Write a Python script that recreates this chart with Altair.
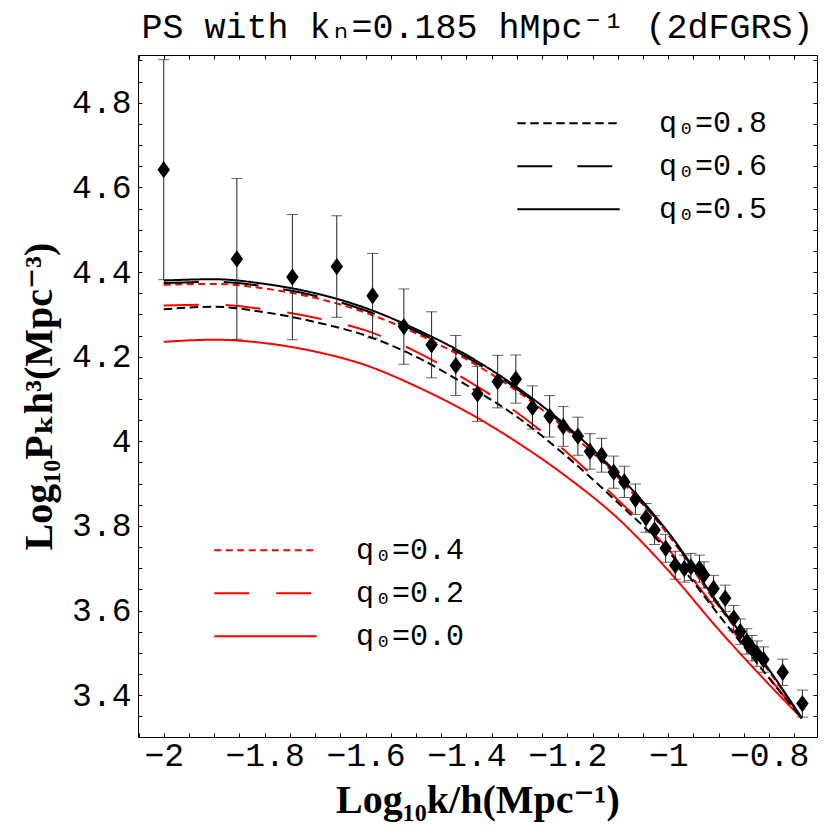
import altair as alt
import pandas as pd

# ---------------- data ----------------
curve_x = [-2.0, -1.9, -1.8, -1.7, -1.6, -1.5, -1.4, -1.3, -1.2, -1.1, -1.0, -0.9, -0.8, -0.735]
q08 = [4.312, 4.318, 4.305, 4.282, 4.250, 4.200, 4.133, 4.058, 3.963, 3.855, 3.740, 3.590, 3.440, 3.345]
q06 = [4.374, 4.377, 4.366, 4.344, 4.309, 4.260, 4.199, 4.124, 4.031, 3.919, 3.782, 3.613, 3.458, 3.345]
q05 = [4.380, 4.383, 4.372, 4.350, 4.315, 4.265, 4.204, 4.128, 4.035, 3.922, 3.785, 3.615, 3.460, 3.345]
q04 = [4.370, 4.372, 4.361, 4.339, 4.304, 4.255, 4.194, 4.119, 4.026, 3.915, 3.779, 3.610, 3.456, 3.345]
q02 = [4.321, 4.323, 4.312, 4.292, 4.262, 4.212, 4.145, 4.068, 3.973, 3.862, 3.745, 3.595, 3.442, 3.345]
q00 = [4.235, 4.240, 4.232, 4.212, 4.180, 4.130, 4.070, 3.998, 3.915, 3.818, 3.695, 3.555, 3.425, 3.345]

black_labels = ["q₀=0.8", "q₀=0.6", "q₀=0.5"]
red_labels = ["q₀=0.4", "q₀=0.2", "q₀=0.0"]

data_x = [-2.000, -1.855, -1.745, -1.657, -1.586, -1.524, -1.469, -1.421, -1.378, -1.338,
          -1.302, -1.269, -1.235, -1.208, -1.179, -1.155, -1.132, -1.108, -1.087, -1.065,
          -1.044, -1.027, -1.005, -0.986, -0.968, -0.955, -0.938, -0.929, -0.910, -0.887,
          -0.870, -0.857, -0.844, -0.834, -0.824, -0.811, -0.773, -0.734]
data_y = [4.642, 4.431, 4.388, 4.413, 4.344, 4.271, 4.228, 4.179, 4.112, 4.141,
          4.147, 4.080, 4.059, 4.035, 4.012, 3.976, 3.967, 3.927, 3.904, 3.863,
          3.819, 3.790, 3.747, 3.707, 3.699, 3.703, 3.699, 3.684, 3.652, 3.629,
          3.582, 3.550, 3.527, 3.511, 3.498, 3.484, 3.454, 3.380]
data_err = [0.260, 0.190, 0.148, 0.120, 0.100, 0.089, 0.078, 0.071, 0.065, 0.062,
            0.057, 0.051, 0.049, 0.047, 0.045, 0.042, 0.040, 0.038, 0.037, 0.036,
            0.034, 0.034, 0.033, 0.033, 0.032, 0.032, 0.032, 0.031, 0.031, 0.031,
            0.030, 0.030, 0.030, 0.030, 0.030, 0.030, 0.031, 0.032]

x_tick_values = [round(-2.05 + 0.05 * i, 2) for i in range(27)]
y_tick_values = [round(3.30 + 0.05 * i, 2) for i in range(33)]

# ---------------- tables ----------------
n = len(curve_x)
black_df = pd.DataFrame({
    "x": curve_x * 3,
    "y": q08 + q06 + q05,
    "model": [black_labels[0]] * n + [black_labels[1]] * n + [black_labels[2]] * n,
})
red_df = pd.DataFrame({
    "x": curve_x * 3,
    "y": q04 + q02 + q00,
    "model": [red_labels[0]] * n + [red_labels[1]] * n + [red_labels[2]] * n,
})
pts = pd.DataFrame({"x": data_x, "y": data_y, "err": data_err})
pts["lo"] = pts["y"] - pts["err"]
pts["hi"] = pts["y"] + pts["err"]

MONO = "Liberation Mono, DejaVu Sans Mono"
SERIF = "Liberation Serif, DejaVu Serif"

xs = alt.Scale(domain=[-2.051, -0.705], nice=False, zero=False)
ys = alt.Scale(domain=[3.301, 4.913], nice=False, zero=False)

maj = "abs(datum.value*5 - round(datum.value*5)) < 1e-6"
lab_expr = f"{maj} ? format(datum.value, '~g') : ''"

axis_bottom = alt.Axis(orient="bottom", values=x_tick_values, labelExpr=lab_expr,
                       title="Log₁₀k/h(Mpc⁻¹)", tickSize=alt.ExprRef(expr="-4"),
                       labelPadding=6, labelOverlap=False, labelFlush=False, titlePadding=8)
axis_left = alt.Axis(orient="left", values=y_tick_values, labelExpr=lab_expr,
                     title="Log₁₀Pₖh³(Mpc⁻³)", tickSize=alt.ExprRef(expr="-4"),
                     labelPadding=11, labelOverlap=False, labelFlush=False, titlePadding=12)
axis_top = alt.Axis(orient="top", values=x_tick_values, labels=False, title=None,
                    tickSize=alt.ExprRef(expr="-4"))
axis_right = alt.Axis(orient="right", values=y_tick_values, labels=False, title=None,
                      tickSize=alt.ExprRef(expr="-4"))

legend_common = dict(orient="none", title=None, direction="vertical",
                     symbolType="stroke", symbolSize=10500, symbolStrokeWidth=2,
                     labelFont=MONO, labelFontSize=30, labelOffset=38,
                     clipHeight=42.5, rowPadding=0, padding=0, labelColor="black")

red = alt.Chart(red_df).mark_line(color="#ff0000", strokeWidth=2, interpolate="monotone").encode(
    x=alt.X("x:Q", scale=xs, axis=axis_bottom),
    y=alt.Y("y:Q", scale=ys, axis=axis_left),
    detail="model:N",
    strokeDash=alt.StrokeDash(
        "model:N",
        scale=alt.Scale(domain=red_labels, range=[[7, 4.5], [35, 27], [1, 0]]),
        legend=alt.Legend(legendX=75, legendY=474, symbolStrokeColor="#ff0000", **legend_common),
    ),
)

black = alt.Chart(black_df).mark_line(color="black", strokeWidth=2, interpolate="monotone").encode(
    x=alt.X("x:Q", scale=xs, axis=axis_top),
    y=alt.Y("y:Q", scale=ys, axis=axis_right),
    detail="model:N",
    strokeDash=alt.StrokeDash(
        "model:N",
        scale=alt.Scale(domain=black_labels, range=[[8.5, 4.5], [35, 25], [1, 0]]),
        legend=alt.Legend(legendX=378, legendY=47, symbolStrokeColor="black", **legend_common),
    ),
)

rules = alt.Chart(pts).mark_rule(color="#222222", strokeWidth=1).encode(
    x=alt.X("x:Q", scale=xs, axis=None),
    y=alt.Y("lo:Q", scale=ys, axis=None),
    y2="hi:Q",
)
cap_lo = alt.Chart(pts).mark_tick(orient="horizontal", size=11, thickness=1, color="#222222").encode(
    x=alt.X("x:Q", scale=xs, axis=None),
    y=alt.Y("lo:Q", scale=ys, axis=None),
)
cap_hi = alt.Chart(pts).mark_tick(orient="horizontal", size=11, thickness=1, color="#222222").encode(
    x=alt.X("x:Q", scale=xs, axis=None),
    y=alt.Y("hi:Q", scale=ys, axis=None),
)
points = alt.Chart(pts).mark_point(
    shape="M0,-1L0.72,0L0,1L-0.72,0Z", size=300, filled=True, color="black", opacity=1
).encode(
    x=alt.X("x:Q", scale=xs, axis=None),
    y=alt.Y("y:Q", scale=ys, axis=None),
)

chart = alt.layer(red, black, rules, cap_lo, cap_hi, points).resolve_scale(
    strokeDash="independent"
).resolve_legend(
    strokeDash="independent"
).resolve_axis(
    x="independent", y="independent"
).properties(
    width=679, height=682,
    title=alt.Title("PS with kₙ=0.185 hMpc⁻¹ (2dFGRS)", font=MONO, fontSize=35,
                    fontWeight="normal", anchor="middle", color="black", offset=0),
    autosize=alt.AutoSizeParams(type="none"),
    padding={"left": 130, "top": 47, "right": 7, "bottom": 95},
).configure_view(
    stroke="black", strokeWidth=1
).configure_axis(
    grid=False, domain=False, tickColor="black", tickWidth=1,
    labelFont=MONO, labelFontSize=33, labelColor="black",
    titleFont=SERIF, titleFontSize=40, titleFontWeight="bold", titleColor="black",
)

chart.save("out.html", embed_options={"renderer": "svg", "actions": False})
